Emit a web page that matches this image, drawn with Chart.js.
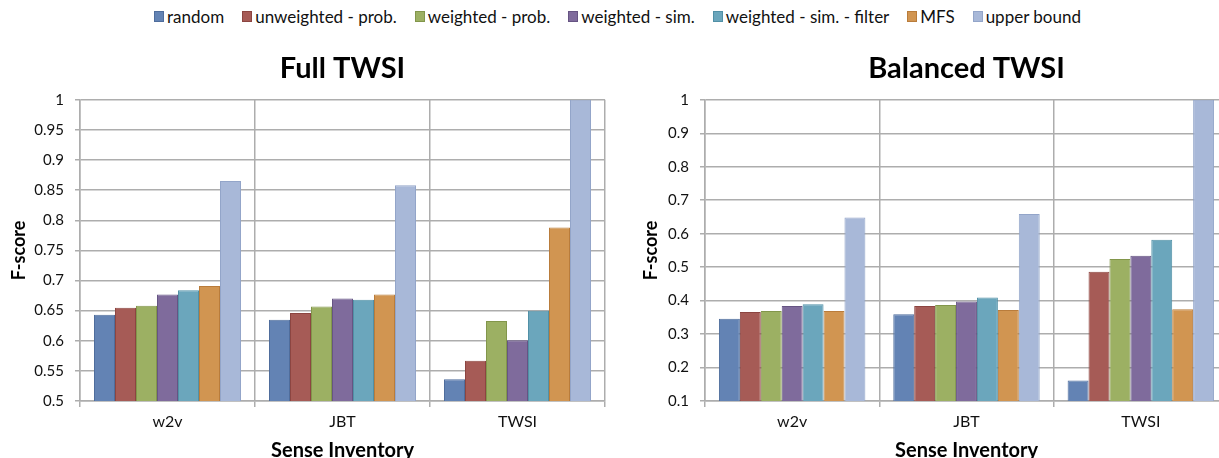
<!DOCTYPE html>
<html>
<head>
<meta charset="utf-8">
<title>TWSI F-score</title>
<script src="https://cdn.jsdelivr.net/npm/chart.js@4.4.1/dist/chart.umd.min.js"></script>
<style>
    html, body {
        margin: 0;
        padding: 0;
        width: 1219px;
        height: 458px;
        overflow: hidden;
        background: #fff;
        position: relative;
    }
    #legend {
        position: absolute;
        left: 8px;
        top: 6px;
        width: 1219px;
        display: flex;
        justify-content: center;
        font-family: Lato, sans-serif;
        font-size: 17px;
        color: #111;
    }
    .legend-item { display: flex; align-items: center; margin: 0 9px; }
    .legend-swatch { width: 8px; height: 9px; border: 1px solid; margin-right: 3px; }
    .chart-box { position: absolute; top: 40px; height: 430px; }
    #box-full { left: 0; width: 615px; }
    #box-balanced { left: 615px; width: 625px; }
</style>
</head>
<body>
<div id="legend"></div>
<div class="chart-box" id="box-full"><canvas id="chart-full"></canvas></div>
<div class="chart-box" id="box-balanced"><canvas id="chart-balanced"></canvas></div>

<script>
// ---- data ----
const categories = ['w2v', 'JBT', 'TWSI'];

const seriesNames = [
    'random',
    'unweighted - prob.',
    'weighted - prob.',
    'weighted - sim.',
    'weighted - sim. - filter',
    'MFS',
    'upper bound'
];

const seriesColors = ['#6383b4', '#a65b56', '#9cb063', '#7f6b9c', '#6ba6bc', '#d19551', '#a8b8d8'];
const seriesBorders = ['#4f6d9c', '#8c4541', '#82964b', '#665483', '#5190a6', '#b97c3b', '#93a5c9'];

// Full TWSI, one array per series (w2v, JBT, TWSI)
const fullRandom       = [0.643, 0.635, 0.536];
const fullUnweighted   = [0.655, 0.646, 0.567];
const fullWeighted     = [0.658, 0.657, 0.633];
const fullWeightedSim  = [0.677, 0.670, 0.601];
const fullSimFilter    = [0.684, 0.668, 0.650];
const fullMFS          = [0.691, 0.677, 0.788];
const fullUpper        = [0.865, 0.858, 1.0];

// Balanced TWSI
const balRandom        = [0.346, 0.359, 0.161];
const balUnweighted    = [0.366, 0.384, 0.486];
const balWeighted      = [0.369, 0.387, 0.524];
const balWeightedSim   = [0.384, 0.397, 0.534];
const balSimFilter     = [0.389, 0.409, 0.582];
const balMFS           = [0.369, 0.372, 0.374];
const balUpper         = [0.648, 0.659, 1.0];

const fullTicks = [0.5, 0.55, 0.6, 0.65, 0.7, 0.75, 0.8, 0.85, 0.9, 0.95, 1];
const balancedTicks = [0.1, 0.2, 0.3, 0.4, 0.5, 0.6, 0.7, 0.8, 0.9, 1];

const fullSeries = [fullRandom, fullUnweighted, fullWeighted, fullWeightedSim, fullSimFilter, fullMFS, fullUpper];
const balancedSeries = [balRandom, balUnweighted, balWeighted, balWeightedSim, balSimFilter, balMFS, balUpper];

const FONT = 'Lato, sans-serif';
const GRID = '#adadad';

/**
 * Build the HTML legend shared by both charts
 */
function buildLegend() {
    const el = document.getElementById('legend');
    seriesNames.forEach((name, i) => {
        const item = document.createElement('span');
        item.className = 'legend-item';
        const sw = document.createElement('span');
        sw.className = 'legend-swatch';
        sw.style.background = seriesColors[i];
        sw.style.borderColor = seriesBorders[i];
        item.appendChild(sw);
        item.appendChild(document.createTextNode(name));
        el.appendChild(item);
    });
}

/**
 * Create one grouped bar chart
 */
function makeChart(canvasId, title, series, ticks, yAxisWidth, yTitlePad, rightPad) {
    const datasets = series.map((values, i) => ({
        label: seriesNames[i],
        data: values,
        backgroundColor: seriesColors[i],
        borderColor: seriesBorders[i],
        borderWidth: 1,
        categoryPercentage: 0.84,
        barPercentage: 1.0
    }));

    return new Chart(document.getElementById(canvasId), {
        type: 'bar',
        data: { labels: categories, datasets },
        options: {
            responsive: true,
            maintainAspectRatio: false,
            animation: false,
            layout: { padding: { left: 0, right: rightPad, top: 0, bottom: 0 } },
            plugins: {
                legend: { display: false },
                tooltip: { enabled: false },
                title: {
                    display: true,
                    fullSize: false,   // centre over the plot area
                    text: title,
                    color: '#000',
                    font: { family: FONT, size: 29, weight: 'bold' },
                    padding: { top: 11, bottom: 14 }
                }
            },
            scales: {
                x: {
                    grid: { color: GRID, lineWidth: 1.5, tickLength: 6, offset: true },
                    border: { color: GRID, width: 1.5 },
                    ticks: { color: '#111', font: { family: FONT, size: 16 }, padding: 5 },
                    title: {
                        display: true,
                        text: 'Sense Inventory',
                        color: '#000',
                        font: { family: FONT, size: 20, weight: 'bold' },
                        padding: { top: 0, bottom: 7 }
                    },
                    afterFit: (scale) => { scale.height = 69; }
                },
                y: {
                    min: ticks[0],
                    max: ticks[ticks.length - 1],
                    grid: { color: GRID, lineWidth: 1.5, tickLength: 5 },
                    border: { color: GRID, width: 1.5 },
                    ticks: {
                        color: '#111',
                        font: { family: FONT, size: 15 },
                        padding: 11,
                        callback: (value) => String(value)
                    },
                    afterBuildTicks: (scale) => {
                        scale.ticks = ticks.map(v => ({ value: v }));
                    },
                    title: {
                        display: true,
                        text: 'F-score',
                        color: '#000',
                        font: { family: FONT, size: 18, weight: 'bold' },
                        padding: { top: yTitlePad, bottom: 0 }
                    },
                    afterFit: (scale) => { scale.width = yAxisWidth; }
                }
            }
        }
    });
}

buildLegend();
makeChart('chart-full', 'Full TWSI', fullSeries, fullTicks, 80, 8, 10);
makeChart('chart-balanced', 'Balanced TWSI', balancedSeries, balancedTicks, 90, 25, 12);
</script>
</body>
</html>
